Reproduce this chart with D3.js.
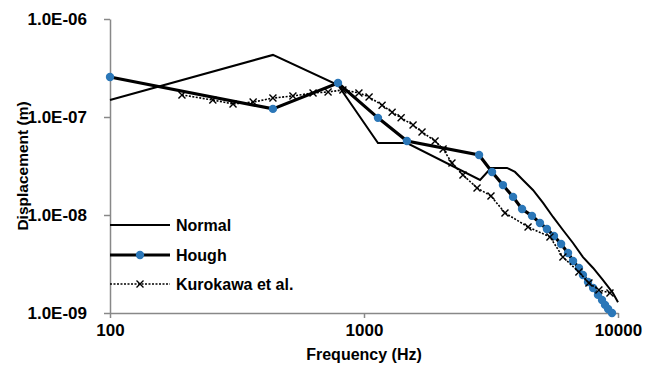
<!DOCTYPE html>
<html>
<head>
<meta charset="utf-8">
<script src="https://cdn.jsdelivr.net/npm/d3@7"></script>
<style>
  body { margin: 0; background: #ffffff; }
</style>
</head>
<body>
<div id="chart"></div>
<script>
// data
const normalFreq = [100, 438, 790, 1135, 1476, 2864, 3162, 3656, 3930, 4225, 4625, 5070, 5550, 6070, 6650, 7280, 7980, 8730, 9550, 10000];
const normalDisp = [1.49e-7, 4.3e-7, 2.12e-7, 5.43e-8, 5.43e-8, 2.28e-8, 3.02e-8, 3.02e-8, 2.75e-8, 2.28e-8, 1.80e-8, 1.33e-8, 9.55e-9, 7.03e-9, 5.18e-9, 3.72e-9, 2.88e-9, 2.17e-9, 1.60e-9, 1.29e-9];

const houghFreq = [100, 438, 790, 1135, 1476, 2838, 3192, 3524, 3861, 4190, 4585, 4929, 5250, 5596, 5970, 6357, 6653, 7022, 7278, 7621, 7980, 8340, 8650, 8890, 9140, 9470];
const houghDisp = [2.56e-7, 1.21e-7, 2.22e-7, 9.8e-8, 5.69e-8, 4.09e-8, 2.75e-8, 2.02e-8, 1.53e-8, 1.15e-8, 9.8e-9, 8.28e-9, 7.19e-9, 6.11e-9, 5.06e-9, 4.09e-9, 3.40e-9, 2.88e-9, 2.44e-9, 2.07e-9, 1.80e-9, 1.53e-9, 1.36e-9, 1.21e-9, 1.10e-9, 1.0e-9];

const kuroFreq = [192, 254, 305, 366, 438, 525, 630, 722, 826, 955, 1047, 1178, 1290, 1400, 1560, 1692, 1904, 2048, 2220, 2453, 2786, 3162, 3590, 4424, 5397, 6070, 7015, 7685, 8410, 9300];
const kuroDisp = [1.68e-7, 1.49e-7, 1.36e-7, 1.42e-7, 1.56e-7, 1.64e-7, 1.76e-7, 1.80e-7, 1.89e-7, 1.76e-7, 1.60e-7, 1.32e-7, 1.12e-7, 9.8e-8, 8.28e-8, 7.03e-8, 5.69e-8, 4.71e-8, 3.39e-8, 2.56e-8, 1.89e-8, 1.56e-8, 1.05e-8, 7.55e-9, 5.97e-9, 3.72e-9, 2.62e-9, 2.02e-9, 1.72e-9, 1.60e-9];

const xTicks = [100, 1000, 10000];
const yTicks = [1e-9, 1e-8, 1e-7, 1e-6];
const seriesNames = ["Normal", "Hough", "Kurokawa et al."];

const width = 657;
const height = 365;
const margin = { top: 19, right: 39, bottom: 52, left: 110 };
const font = "'Liberation Sans', Arial, sans-serif";
const blue = "#2b77b8";
const axisGrey = "#888888";

const svg = d3.select("#chart")
  .append("svg")
  .attr("width", width)
  .attr("height", height)
  .style("background", "#ffffff");

const x = d3.scaleLog()
  .domain([100, 10000])
  .range([margin.left, width - margin.right]);

const y = d3.scaleLog()
  .domain([1e-9, 1e-6])
  .range([height - margin.bottom, margin.top]);

// "1.0E-06" style labels
function sciFormat(v) {
  const [m, e] = v.toExponential(1).split("e");
  const n = Math.abs(+e);
  return m + "E" + (+e < 0 ? "-" : "+") + (n < 10 ? "0" + n : n);
}

// axes
const xAxis = svg.append("g")
  .attr("transform", `translate(0, ${height - margin.bottom})`)
  .call(d3.axisBottom(x).tickValues(xTicks).tickFormat(d3.format("d")).tickSize(5).tickSizeOuter(0).tickPadding(6));

const yAxis = svg.append("g")
  .attr("transform", `translate(${margin.left}, 0)`)
  .call(d3.axisLeft(y).tickValues(yTicks).tickFormat(sciFormat).tickSize(6).tickSizeOuter(0).tickPadding(17));

[xAxis, yAxis].forEach(g => {
  g.select(".domain").attr("stroke", axisGrey).attr("stroke-width", 1.5);
  g.selectAll(".tick line").attr("stroke", axisGrey).attr("stroke-width", 1.5);
  g.selectAll("text")
    .attr("fill", "#000")
    .style("font-family", font)
    .style("font-size", "17px")
    .style("font-weight", "bold");
});

// axis titles
svg.append("text")
  .attr("x", x(1000))
  .attr("y", 360)
  .attr("text-anchor", "middle")
  .style("font-family", font)
  .style("font-size", "16px")
  .style("font-weight", "bold")
  .text("Frequency (Hz)");

svg.append("text")
  .attr("transform", "rotate(-90)")
  .attr("x", -166)
  .attr("y", 28)
  .attr("text-anchor", "middle")
  .style("font-family", font)
  .style("font-size", "15.5px")
  .style("font-weight", "bold")
  .text("Displacement (m)");

const line = d3.line()
  .x(d => x(d[0]))
  .y(d => y(d[1]));

const normal = normalFreq.map((f, i) => [f, normalDisp[i]]);
const hough = houghFreq.map((f, i) => [f, houghDisp[i]]);
const kuro = kuroFreq.map((f, i) => [f, kuroDisp[i]]);

// Normal
svg.append("path")
  .datum(normal)
  .attr("d", line)
  .attr("fill", "none")
  .attr("stroke", "#000")
  .attr("stroke-width", 2);

// Hough
svg.append("path")
  .datum(hough)
  .attr("d", line)
  .attr("fill", "none")
  .attr("stroke", "#000")
  .attr("stroke-width", 3.2);

svg.selectAll(".hough-dot")
  .data(hough)
  .join("circle")
  .attr("class", "hough-dot")
  .attr("cx", d => x(d[0]))
  .attr("cy", d => y(d[1]))
  .attr("r", 4.2)
  .attr("fill", blue);

// Kurokawa et al.
svg.append("path")
  .datum(kuro)
  .attr("d", line)
  .attr("fill", "none")
  .attr("stroke", "#000")
  .attr("stroke-width", 1.6)
  .attr("stroke-dasharray", "2,1.5");

function cross(g, cx, cy, s) {
  g.append("path")
    .attr("d", `M${cx - s},${cy - s}L${cx + s},${cy + s}M${cx - s},${cy + s}L${cx + s},${cy - s}`)
    .attr("stroke", "#000")
    .attr("stroke-width", 1.4)
    .attr("fill", "none");
}

const kuroMarks = svg.append("g");
kuro.forEach(d => cross(kuroMarks, x(d[0]), y(d[1]), 3.5));

// legend
const legend = svg.append("g");
const rowY = [225, 255, 284];

seriesNames.forEach((name, i) => {
  const ly = rowY[i];
  const seg = legend.append("line")
    .attr("x1", 110)
    .attr("x2", 170)
    .attr("y1", ly)
    .attr("y2", ly)
    .attr("stroke", "#000");
  if (i === 0) seg.attr("stroke-width", 2);
  if (i === 1) {
    seg.attr("stroke-width", 3.2);
    legend.append("circle").attr("cx", 140).attr("cy", ly).attr("r", 4.2).attr("fill", blue);
  }
  if (i === 2) {
    seg.attr("stroke-width", 1.6).attr("stroke-dasharray", "2,1.5");
    cross(legend, 140, ly, 3.5);
  }
  legend.append("text")
    .attr("x", 176)
    .attr("y", ly + 6)
    .style("font-family", font)
    .style("font-size", "16px")
    .style("font-weight", "bold")
    .text(name);
});
</script>
</body>
</html>
